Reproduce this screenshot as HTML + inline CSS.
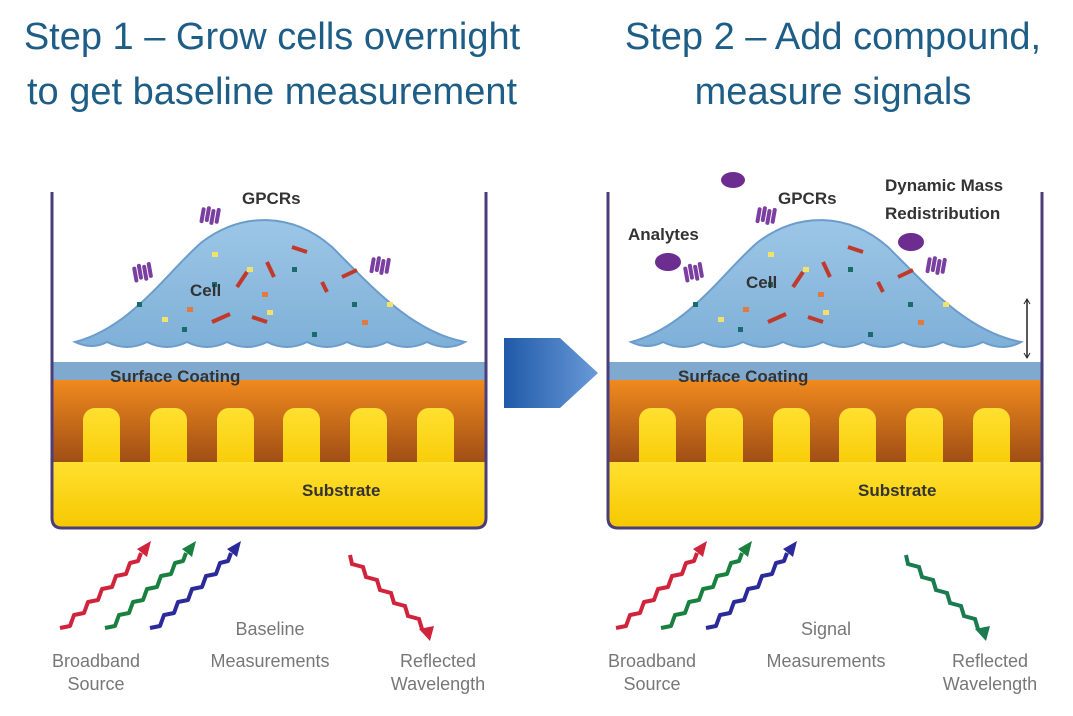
<!DOCTYPE html>
<html><head><meta charset="utf-8"><style>
body{margin:0;background:#fff;width:1073px;height:716px;overflow:hidden}
svg{display:block}
.t{font-family:"Liberation Sans",sans-serif;font-size:38px;fill:#1d5d86}
.l{font-family:"Liberation Sans",sans-serif;font-size:18px;fill:#777;text-anchor:middle}
.b{font-family:"Liberation Sans",sans-serif;font-size:17px;font-weight:bold;fill:#333}
</style></head><body>
<svg width="1073" height="716" viewBox="0 0 1073 716">
<defs>
<linearGradient id="org" x1="0" y1="0" x2="0" y2="1">
<stop offset="0" stop-color="#f08a1e"/><stop offset="1" stop-color="#9a4a14"/></linearGradient>
<linearGradient id="yel" x1="0" y1="0" x2="0" y2="1">
<stop offset="0" stop-color="#ffe030"/><stop offset="1" stop-color="#f6c800"/></linearGradient>
<linearGradient id="cel" x1="0" y1="0" x2="0" y2="1">
<stop offset="0" stop-color="#9cc6e6"/><stop offset="1" stop-color="#7fb0d8"/></linearGradient>
<linearGradient id="arr" x1="0" y1="0" x2="1" y2="0">
<stop offset="0" stop-color="#1f5aa8"/><stop offset="1" stop-color="#6a9ad8"/></linearGradient>
<g id="well">
<rect x="0" y="170" width="434" height="18" fill="#7fa9cf"/>
<rect x="0" y="188" width="434" height="88" fill="url(#org)"/>
<g fill="url(#yel)">
<rect x="31" y="216" width="37" height="70" rx="12"/><rect x="98" y="216" width="37" height="70" rx="12"/>
<rect x="165" y="216" width="37" height="70" rx="12"/><rect x="231" y="216" width="37" height="70" rx="12"/>
<rect x="298" y="216" width="37" height="70" rx="12"/><rect x="365" y="216" width="37" height="70" rx="12"/>
<path d="M0,270 H434 V326 Q434,336 424,336 H10 Q0,336 0,326 Z"/>
</g>
<path d="M0,0 V326 Q0,336 10,336 H424 Q434,336 434,326 V0" fill="none" stroke="#4a3d7a" stroke-width="3"/>
<path d="M23,150 C80,135 115,80 150,50 C190,20 240,20 280,55 C320,95 360,140 413,150 Q395,160 375,150 Q355,160 335,150 Q315,160 295,150 Q275,160 255,150 Q235,160 215,150 Q195,160 175,150 Q155,160 135,150 Q115,160 95,150 Q75,160 55,150 Q40,158 23,150Z" fill="url(#cel)" stroke="#6b9ccc" stroke-width="2"/>
<g fill="#1a6b6b"><rect x="85" y="110" width="5" height="5"/><rect x="160" y="90" width="5" height="5"/><rect x="240" y="75" width="5" height="5"/><rect x="300" y="110" width="5" height="5"/><rect x="130" y="135" width="5" height="5"/><rect x="260" y="140" width="5" height="5"/></g>
<g fill="#f3e26a"><rect x="160" y="60" width="6" height="5"/><rect x="195" y="75" width="6" height="5"/><rect x="215" y="118" width="6" height="5"/><rect x="335" y="110" width="6" height="5"/><rect x="110" y="125" width="6" height="5"/></g>
<g fill="#e07a40"><rect x="135" y="115" width="6" height="5"/><rect x="210" y="100" width="6" height="5"/><rect x="310" y="128" width="6" height="5"/></g>
<g stroke="#c0392b" stroke-width="4"><line x1="185" y1="95" x2="195" y2="80"/><line x1="215" y1="70" x2="222" y2="85"/><line x1="290" y1="85" x2="305" y2="78"/><line x1="160" y1="130" x2="178" y2="122"/><line x1="200" y1="125" x2="215" y2="130"/><line x1="240" y1="55" x2="255" y2="60"/><line x1="270" y1="90" x2="275" y2="100"/></g>
</g>
<g id="recep" fill="#7a3fa0"><rect x="0" y="0" width="4" height="16" rx="2"/><rect x="5" y="-2" width="4" height="16" rx="2"/><rect x="10" y="0" width="4" height="16" rx="2"/><rect x="15" y="-2" width="4" height="16" rx="2"/></g>
<g id="ub" fill="none" stroke-width="4" stroke-linejoin="round"><path d="M0,0 l10,-2 l4,-11 l10,-2 l4,-11 l10,-2 l4,-11 l10,-2 l4,-11 l10,-2 l4,-11 l8,-2 l3,-8"/></g>
<path id="dn" d="M0,0 l2,9 l11,3 l3,10 l11,3 l3,10 l11,3 l3,10 l11,3 l3,10 l11,3 l3,10" fill="none" stroke-width="4"/>
</defs>
<text class="t" x="272" y="49" text-anchor="middle">Step 1 – Grow cells overnight</text>
<text class="t" x="272" y="104" text-anchor="middle">to get baseline measurement</text>
<text class="t" x="833" y="49" text-anchor="middle">Step 2 – Add compound,</text>
<text class="t" x="833" y="104" text-anchor="middle">measure signals</text>

<g transform="translate(52,192)"><use href="#well"/>
<use href="#recep" transform="translate(150,15) rotate(10)"/><use href="#recep" transform="translate(80,75) rotate(-10)"/><use href="#recep" transform="translate(320,65) rotate(10)"/>
<text class="b" x="190" y="12">GPCRs</text><text class="b" x="138" y="104">Cell</text>
<text class="b" x="58" y="190" fill="#2a4a6a">Surface Coating</text><text class="b" x="250" y="304">Substrate</text></g>

<g transform="translate(608,192)"><use href="#well"/>
<use href="#recep" transform="translate(150,15) rotate(10)"/><use href="#recep" transform="translate(75,75) rotate(-10)"/><use href="#recep" transform="translate(320,65) rotate(10)"/>
<g fill="#6d2c8f"><ellipse cx="125" cy="-12" rx="12" ry="8"/><ellipse cx="60" cy="70" rx="13" ry="9"/><ellipse cx="303" cy="50" rx="13" ry="9"/></g>
<text class="b" x="170" y="12">GPCRs</text><text class="b" x="138" y="96">Cell</text>
<text class="b" x="20" y="48">Analytes</text>
<text class="b" x="277" y="-1">Dynamic Mass</text><text class="b" x="277" y="27">Redistribution</text>
<text class="b" x="70" y="190" fill="#2a4a6a">Surface Coating</text><text class="b" x="250" y="304">Substrate</text>
<line x1="419" y1="108" x2="419" y2="165" stroke="#222" stroke-width="1.5"/><path d="M416,112 l3,-5 l3,5 M416,161 l3,5 l3,-5" stroke="#222" fill="none"/></g>

<path d="M504,338 H560 L598,373 L560,408 H504 Z" fill="url(#arr)"/>

<g transform="translate(60,628)"><use href="#ub" stroke="#d0243c"/><path d="M91,-87 L77,-79 L87,-71 Z" fill="#d0243c"/></g>
<g transform="translate(105,628)"><use href="#ub" stroke="#1a8040"/><path d="M91,-87 L77,-79 L87,-71 Z" fill="#1a8040"/></g>
<g transform="translate(150,628)"><use href="#ub" stroke="#2a2a9a"/><path d="M91,-87 L77,-79 L87,-71 Z" fill="#2a2a9a"/></g>
<g transform="translate(350,555)"><use href="#dn" stroke="#d0243c"/><path d="M80,86 L69,74 L84,71 Z" fill="#d0243c"/></g>
<g transform="translate(616,628)"><use href="#ub" stroke="#d0243c"/><path d="M91,-87 L77,-79 L87,-71 Z" fill="#d0243c"/></g>
<g transform="translate(661,628)"><use href="#ub" stroke="#1a8040"/><path d="M91,-87 L77,-79 L87,-71 Z" fill="#1a8040"/></g>
<g transform="translate(706,628)"><use href="#ub" stroke="#2a2a9a"/><path d="M91,-87 L77,-79 L87,-71 Z" fill="#2a2a9a"/></g>
<g transform="translate(906,555)"><use href="#dn" stroke="#1a7a50"/><path d="M80,86 L69,74 L84,71 Z" fill="#1a7a50"/></g>

<text class="l" x="96" y="667">Broadband</text><text class="l" x="96" y="690">Source</text>
<text class="l" x="270" y="635">Baseline</text><text class="l" x="270" y="667">Measurements</text>
<text class="l" x="438" y="667">Reflected</text><text class="l" x="438" y="690">Wavelength</text>
<text class="l" x="652" y="667">Broadband</text><text class="l" x="652" y="690">Source</text>
<text class="l" x="826" y="635">Signal</text><text class="l" x="826" y="667">Measurements</text>
<text class="l" x="990" y="667">Reflected</text><text class="l" x="990" y="690">Wavelength</text>
</svg>
</body></html>
